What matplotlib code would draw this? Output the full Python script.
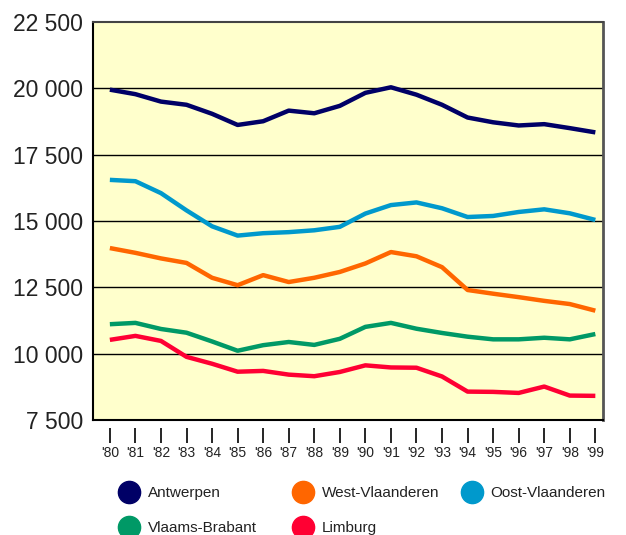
import matplotlib
matplotlib.use("Agg")
import matplotlib.pyplot as plt
from matplotlib.ticker import FuncFormatter

years = list(range(1980, 2000))
year_labels = ["'" + str(y)[2:] for y in years]

antwerpen = [19950, 19780, 19500, 19380, 19040, 18620, 18760, 19160, 19060, 19340,
             19830, 20040, 19760, 19380, 18900, 18720, 18600, 18650, 18500, 18340]
oost_vl = [16550, 16500, 16050, 15400, 14800, 14450, 14540, 14580, 14650, 14780,
           15280, 15600, 15700, 15480, 15150, 15190, 15340, 15440, 15290, 15040]
west_vl = [13980, 13800, 13590, 13420, 12860, 12580, 12960, 12700, 12860, 13080,
           13400, 13830, 13670, 13260, 12400, 12260, 12130, 11990, 11870, 11620]
vl_brabant = [11110, 11160, 10930, 10790, 10460, 10110, 10320, 10440, 10330, 10560,
              11010, 11160, 10940, 10780, 10640, 10540, 10540, 10600, 10540, 10740]
limburg = [10520, 10670, 10480, 9880, 9620, 9320, 9350, 9210, 9150, 9310,
           9560, 9480, 9470, 9140, 8570, 8560, 8520, 8760, 8420, 8410]

series = [
    ("Antwerpen", antwerpen, "#000066"),
    ("Vlaams-Brabant", vl_brabant, "#009966"),
    ("West-Vlaanderen", west_vl, "#ff6600"),
    ("Limburg", limburg, "#ff0033"),
    ("Oost-Vlaanderen", oost_vl, "#0099cc"),
]
# legend columns as in the original
legend_cols = [[0, 1], [2, 3], [4]]
legend_x = [120, 294, 463]

plt.rcParams['font.family'] = ['Liberation Sans', 'DejaVu Sans']

fig = plt.figure(figsize=(6.26, 5.35), dpi=100)
ax = fig.add_axes([93/626, 1-420/535, 510/626, 398/535])
ax.set_facecolor("#ffffcc")

for name, vals, col in series:
    ax.plot(years, vals, color=col, lw=3.2, solid_capstyle="butt", zorder=3)

ax.set_xlim(1979.34, 1999.3)
ax.set_ylim(7500, 22500)
ax.set_yticks(range(7500, 22501, 2500))
ax.yaxis.set_major_formatter(FuncFormatter(lambda v, p: "{:,}".format(int(v)).replace(",", " ")))
for v in range(10000, 22500, 2500):
    ax.axhline(v, color="black", lw=1, zorder=2)

ax.set_xticks(years)
ax.set_xticklabels(year_labels, fontsize=13, family=['Liberation Sans Narrow', 'Liberation Sans'])
ax.tick_params(axis="y", length=0, pad=7, labelsize=16.5, labelcolor="#222222")
ax.tick_params(axis="x", length=11, width=1.2, pad=2, color="black", labelcolor="#222222")

# bottom spine pushed down so ticks hang below the plot area
ax.spines["bottom"].set_position(("outward", 6))
ax.spines["bottom"].set_color("none")
ax.axhline(7500, color="black", lw=1.5, clip_on=False, zorder=4)
ax.spines["left"].set_color("black")
ax.spines["left"].set_linewidth(1.5)
ax.spines["top"].set_color("#444444")
ax.spines["top"].set_linewidth(1.5)
ax.spines["right"].set_color("#555555")
ax.spines["right"].set_linewidth(2)

for idx, x0 in zip(legend_cols, legend_x):
    handles = [plt.Line2D([], [], ls="none", marker="o", ms=16, color=series[i][2]) for i in idx]
    labels = [series[i][0] for i in idx]
    fig.legend(handles, labels, loc="upper left", bbox_to_anchor=(x0/626, 1-486/535),
               frameon=False, fontsize=11, handletextpad=0.6, handlelength=1.2,
               labelspacing=1.4, borderaxespad=0, borderpad=0, labelcolor="#222222")

fig.savefig("out.png", dpi=100)
